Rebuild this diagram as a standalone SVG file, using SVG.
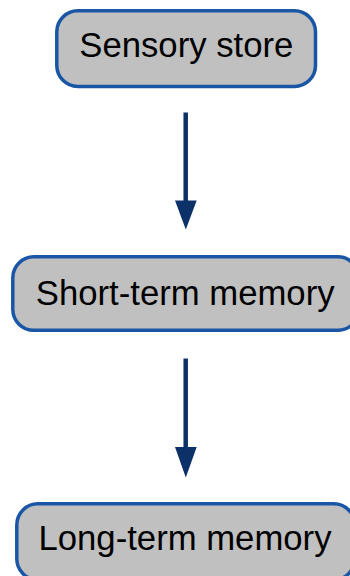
<svg xmlns="http://www.w3.org/2000/svg" width="350" height="576" viewBox="0 0 350 576">
  <style>
    .box { fill: #c0c0c0; stroke: #1a56a6; stroke-width: 3.5; }
    .label { font-family: "Liberation Sans", Arial, sans-serif; font-size: 34.7px; fill: #000; text-anchor: middle; }
    .shaft { stroke: #0c3068; stroke-width: 4.5; fill: none; }
    .head { fill: #0c3068; }
  </style>
  <rect width="350" height="576" fill="#ffffff"/>

  <g id="sensory-store">
    <rect class="box" x="56.8" y="10.8" width="258.7" height="75.6" rx="21" ry="21"/>
    <text class="label" x="186.3" y="56.5">Sensory store</text>
  </g>

  <g id="short-term-memory">
    <rect class="box" x="12.8" y="256.8" width="346" height="73.5" rx="21" ry="21"/>
    <text class="label" x="185.2" y="304.5">Short-term memory</text>
  </g>

  <g id="long-term-memory">
    <rect class="box" x="16.8" y="503.8" width="338" height="76" rx="21" ry="21"/>
    <text class="label" x="185" y="550">Long-term memory</text>
  </g>

  <g id="connectors">
    <line class="shaft" x1="185.7" y1="112.5" x2="185.7" y2="202"/>
    <polygon class="head" points="175,200.5 196.7,200.5 185.8,229.5"/>
    <line class="shaft" x1="185.7" y1="358.5" x2="185.7" y2="449"/>
    <polygon class="head" points="175,447 196.7,447 185.8,477.5"/>
  </g>
</svg>
